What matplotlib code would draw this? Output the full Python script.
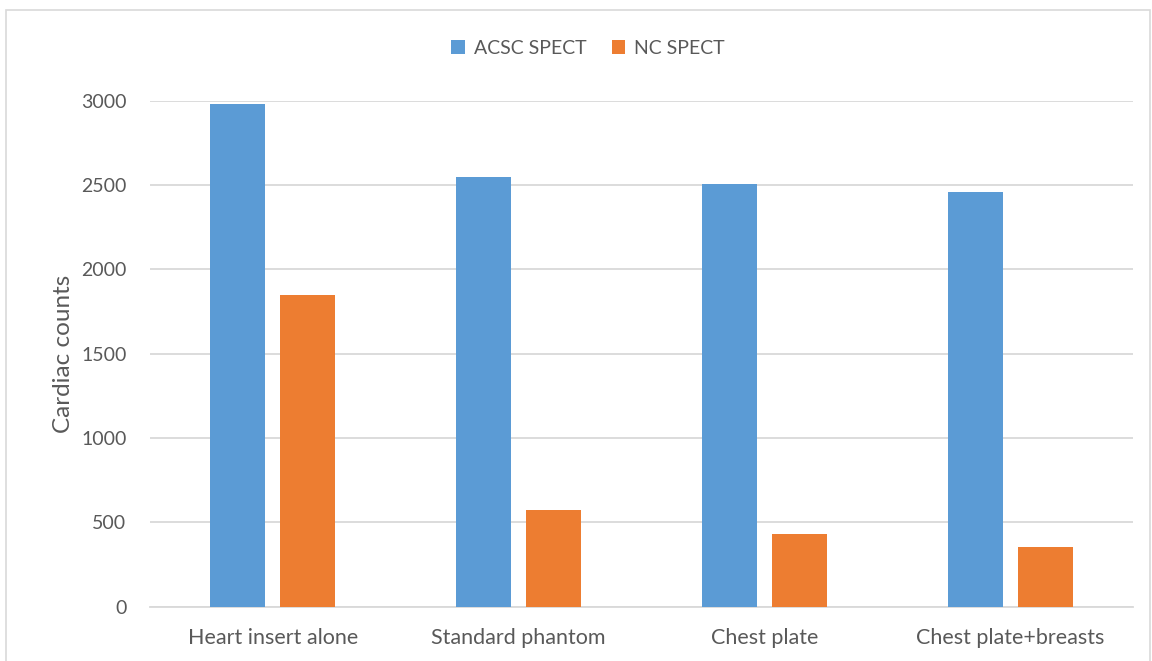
import matplotlib
matplotlib.use("Agg")
import matplotlib.pyplot as plt
import numpy as np

# cardiac counts per phantom configuration
categories = ['Heart insert alone', 'Standard phantom', 'Chest plate', 'Chest plate+breasts']
acsc_spect = [2980, 2547, 2506, 2458]
nc_spect = [1848, 573, 429, 356]
yticks = [0, 500, 1000, 1500, 2000, 2500, 3000]

plt.rcParams['font.family'] = ['Lato', 'DejaVu Sans']

fig = plt.figure(figsize=(11.52, 6.61), dpi=100)
# chart frame
fig.patches.append(plt.Rectangle((6 / 1152, -0.05), (1150 - 6) / 1152, 1.05 - 10 / 661,
                                 transform=fig.transFigure, fill=False,
                                 edgecolor='#d9d9d9', linewidth=1.2))

ax = fig.add_axes([150 / 1152, 1 - 606.7 / 661, (1133 - 150) / 1152, (606.7 - 100.7) / 661])

x = np.arange(len(categories))
w = 0.224
off = 0.1425
ax.bar(x - off, acsc_spect, w, color='#5b9bd5', label='ACSC SPECT', zorder=3)
ax.bar(x + off, nc_spect, w, color='#ed7d31', label='NC SPECT', zorder=3)

ax.set_xlim(-0.5, len(categories) - 0.5)
ax.set_ylim(0, 3000)
ax.set_yticks(yticks)
ax.set_xticks(x)
ax.set_xticklabels(categories, fontsize=15.5)
ax.yaxis.grid(True, color='#d9d9d9', linewidth=1.3, zorder=0)
ax.set_axisbelow(True)
for s in ['top', 'right', 'left']:
    ax.spines[s].set_visible(False)
ax.spines['bottom'].set_color('#d9d9d9')
ax.spines['bottom'].set_linewidth(1.3)
ax.tick_params(axis='both', length=0, colors='#595959')
ax.tick_params(axis='y', pad=17, labelsize=14)
ax.tick_params(axis='x', pad=15)
ax.set_ylabel('Cardiac counts', fontsize=17.5, color='#595959', labelpad=5)

fig.legend(loc='center', bbox_to_anchor=(588 / 1152, 1 - 48 / 661), ncol=2, frameon=False,
           fontsize=14, handlelength=0.7, handleheight=0.7, handletextpad=0.45,
           columnspacing=1.3, labelcolor='#595959')

fig.savefig('out.png', dpi=100, facecolor='white')
